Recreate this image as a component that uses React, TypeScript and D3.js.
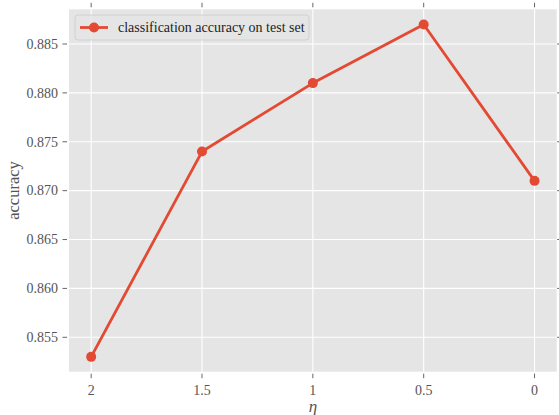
import React, { useEffect, useRef } from 'react'
import * as d3 from 'd3'

const categories = ['2', '1.5', '1', '0.5', '0']
const accuracy = [0.853, 0.874, 0.881, 0.887, 0.871]
const yTicks = [0.855, 0.86, 0.865, 0.87, 0.875, 0.88, 0.885]
const seriesName = 'classification accuracy on test set'

const App = () => {
  const svgRef = useRef<SVGSVGElement>(null)

  useEffect(() => {
    const svg = d3.select(svgRef.current)
    svg.selectAll('*').remove()

    const width = 559
    const height = 415
    const left = 69
    const right = 556.7
    const top = 9.3
    const bottom = 371.7
    const red = '#E24A33'
    const grey = '#555555'
    const font = '"Liberation Serif", "Times New Roman", serif'

    // x: index positions with matplotlib's 5% margin
    const x = d3
      .scaleLinear()
      .domain([-0.2, categories.length - 1 + 0.2])
      .range([left, right])
    const y = d3.scaleLinear().domain([0.855, 0.885]).range([337.3, 44])

    svg.attr('width', width).attr('height', height)

    svg
      .append('rect')
      .attr('x', left)
      .attr('y', top)
      .attr('width', right - left)
      .attr('height', bottom - top)
      .attr('fill', '#E5E5E5')

    // grid
    const grid = svg.append('g').attr('stroke', '#ffffff').attr('stroke-width', 1.1)
    grid
      .selectAll('line.gx')
      .data(categories)
      .join('line')
      .attr('class', 'gx')
      .attr('x1', (_, i) => x(i))
      .attr('x2', (_, i) => x(i))
      .attr('y1', top)
      .attr('y2', bottom)
    grid
      .selectAll('line.gy')
      .data(yTicks)
      .join('line')
      .attr('class', 'gy')
      .attr('x1', left)
      .attr('x2', right)
      .attr('y1', d => y(d))
      .attr('y2', d => y(d))

    // ticks on all four sides
    const ticks = svg.append('g').attr('stroke', grey).attr('stroke-width', 0.9)
    categories.forEach((_, i) => {
      ticks.append('line').attr('x1', x(i)).attr('x2', x(i)).attr('y1', bottom + 2).attr('y2', bottom + 6.5)
      ticks.append('line').attr('x1', x(i)).attr('x2', x(i)).attr('y1', top - 2).attr('y2', top - 6.5)
    })
    yTicks.forEach(v => {
      ticks.append('line').attr('x1', left - 2).attr('x2', left - 6.5).attr('y1', y(v)).attr('y2', y(v))
      ticks.append('line').attr('x1', right + 0.5).attr('x2', right + 5).attr('y1', y(v)).attr('y2', y(v))
    })

    // tick labels
    svg
      .append('g')
      .selectAll('text')
      .data(categories)
      .join('text')
      .attr('x', (_, i) => x(i))
      .attr('y', 395)
      .attr('text-anchor', 'middle')
      .attr('font-family', font)
      .attr('font-size', 14)
      .attr('fill', grey)
      .text(d => d)
    svg
      .append('g')
      .selectAll('text')
      .data(yTicks)
      .join('text')
      .attr('x', 58)
      .attr('y', d => y(d))
      .attr('dy', '0.34em')
      .attr('text-anchor', 'end')
      .attr('font-family', font)
      .attr('font-size', 14)
      .attr('fill', grey)
      .text(d => d3.format('.3f')(d))

    // axis labels
    svg
      .append('text')
      .attr('x', (left + right) / 2)
      .attr('y', 412)
      .attr('text-anchor', 'middle')
      .attr('font-family', font)
      .attr('font-style', 'italic')
      .attr('font-size', 17)
      .attr('fill', grey)
      .text('η')
    svg
      .append('text')
      .attr('transform', `translate(19, ${(top + bottom) / 2}) rotate(-90)`)
      .attr('text-anchor', 'middle')
      .attr('font-family', font)
      .attr('font-size', 16.5)
      .attr('fill', grey)
      .text('accuracy')

    // series
    const line = d3
      .line<number>()
      .x((_, i) => x(i))
      .y(d => y(d))
    svg
      .append('path')
      .datum(accuracy)
      .attr('d', line)
      .attr('fill', 'none')
      .attr('stroke', red)
      .attr('stroke-width', 2.8)
      .attr('stroke-linejoin', 'round')
    svg
      .append('g')
      .selectAll('circle')
      .data(accuracy)
      .join('circle')
      .attr('cx', (_, i) => x(i))
      .attr('cy', d => y(d))
      .attr('r', 5)
      .attr('fill', red)

    // legend
    const lg = svg.append('g')
    lg.append('rect')
      .attr('x', 75)
      .attr('y', 15)
      .attr('width', 234)
      .attr('height', 25)
      .attr('rx', 3)
      .attr('fill', '#E5E5E5')
      .attr('fill-opacity', 0.8)
      .attr('stroke', '#cccccc')
      .attr('stroke-width', 0.8)
    lg.append('line')
      .attr('x1', 80)
      .attr('x2', 108)
      .attr('y1', 27.5)
      .attr('y2', 27.5)
      .attr('stroke', red)
      .attr('stroke-width', 2.8)
    lg.append('circle').attr('cx', 94).attr('cy', 27.5).attr('r', 5).attr('fill', red)
    lg.append('text')
      .attr('x', 118)
      .attr('y', 27.5)
      .attr('dy', '0.34em')
      .attr('font-family', font)
      .attr('font-size', 14)
      .attr('fill', '#222222')
      .text(seriesName)
  }, [])

  return (
    <svg
      ref={svgRef}
      width={559}
      height={415}
      style={{ position: 'absolute', left: 0, top: 0, display: 'block' }}
    />
  )
}

export default App
